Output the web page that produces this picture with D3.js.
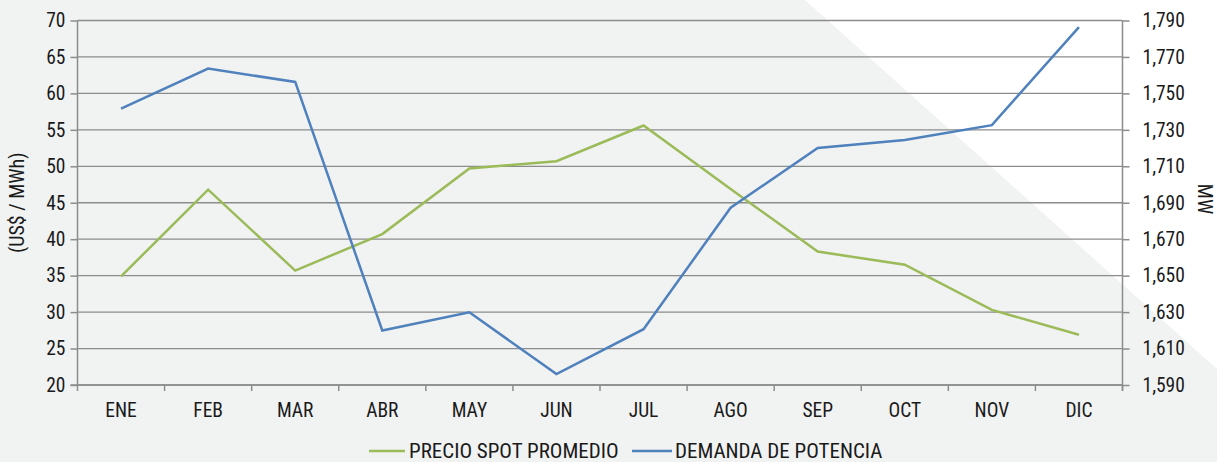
<!DOCTYPE html>
<html>
<head>
<meta charset="utf-8">
<script src="https://cdn.jsdelivr.net/npm/d3@7"></script>
<style>
  body { margin: 0; background: #f1f2f2; }
  svg { display: block; }
  text { font-family: "Roboto Condensed", "Liberation Sans Narrow", Roboto, sans-serif; fill: #1a1a1a; }
</style>
</head>
<body>
<div id="grafico"></div>
<script>

// dati del grafico
let mesi = ["ENE", "FEB", "MAR", "ABR", "MAY", "JUN", "JUL", "AGO", "SEP", "OCT", "NOV", "DIC"];
let precioSpot = [34.9, 46.8, 35.7, 40.7, 49.7, 50.7, 55.6, 46.9, 38.3, 36.5, 30.3, 26.9];
let demandaPotencia = [1741.7, 1763.6, 1756.3, 1619.9, 1629.9, 1596, 1620.6, 1687.3, 1720, 1724.4, 1732.6, 1786.4];
let ticksSinistra = [20, 25, 30, 35, 40, 45, 50, 55, 60, 65, 70];
let ticksDestra = [1590, 1610, 1630, 1650, 1670, 1690, 1710, 1730, 1750, 1770, 1790];
let nomiSerie = ["PRECIO SPOT PROMEDIO", "DEMANDA DE POTENCIA"];

let larghezza = 1217;
let altezza = 462;
let margine = { top: 20.5, right: 94.5, bottom: 77, left: 77.5 };
let colori = { precio: "#9bbb59", demanda: "#4f81bd", griglia: "#8c8c8c" };

let svg = d3.select("#grafico")
    .append("svg")
    .attr("width", larghezza)
    .attr("height", altezza);

// triangolo bianco in alto a destra
svg.append("polygon")
    .attr("points", `805,0 ${larghezza},0 ${larghezza},369`)
    .style("fill", "#ffffff");

let x = d3.scaleBand()
    .domain(mesi)
    .range([margine.left, larghezza - margine.right]);

let ySinistra = d3.scaleLinear()
    .domain([20, 70])
    .range([altezza - margine.bottom, margine.top]);

let yDestra = d3.scaleLinear()
    .domain([1590, 1790])
    .range([altezza - margine.bottom, margine.top]);

// griglia orizzontale
svg.append("g")
    .selectAll("line")
    .data(ticksSinistra)
    .enter().append("line")
    .attr("x1", margine.left)
    .attr("x2", larghezza - margine.right)
    .attr("y1", (d) => ySinistra(d))
    .attr("y2", (d) => ySinistra(d))
    .style("stroke", colori.griglia)
    .style("stroke-width", 1.3);

// assi
let asseSinistro = svg.append("g")
    .attr("transform", `translate(${margine.left},0)`)
    .call(d3.axisLeft(ySinistra).tickValues(ticksSinistra).tickSize(7).tickPadding(5));

let asseDestro = svg.append("g")
    .attr("transform", `translate(${larghezza - margine.right},0)`)
    .call(d3.axisRight(yDestra).tickValues(ticksDestra).tickSize(7).tickPadding(13).tickFormat(d3.format(",")));

let asseX = svg.append("g")
    .attr("transform", `translate(0,${altezza - margine.bottom})`)
    .call(d3.axisBottom(x).tickSize(0).tickPadding(18));

// tacche dell'asse x sui bordi delle categorie
asseX.append("g")
    .selectAll("line")
    .data(mesi.concat(["fine"]))
    .enter().append("line")
    .attr("x1", (d, i) => margine.left + i * x.step())
    .attr("x2", (d, i) => margine.left + i * x.step())
    .attr("y1", 0)
    .attr("y2", 6)
    .style("stroke", colori.griglia)
    .style("stroke-width", 1.5);

[asseSinistro, asseDestro, asseX].forEach((a) => {
    a.select(".domain").style("stroke", colori.griglia).style("stroke-width", 1.5);
    a.selectAll(".tick line").style("stroke", colori.griglia).style("stroke-width", 1.5);
    a.selectAll("text").style("font-size", "19.5px").style("fill", "#1a1a1a");
});
asseSinistro.select(".domain").attr("d", `M0,${ySinistra(70)}V${ySinistra(20)}`);
asseDestro.select(".domain").attr("d", `M0,${yDestra(1790)}V${yDestra(1590) + 6}`);
asseX.select(".domain").attr("d", `M${margine.left - 7},0H${larghezza - margine.right}`);

// titoli degli assi
svg.append("text")
    .attr("transform", `translate(24,${(margine.top + altezza - margine.bottom) / 2}) rotate(-90)`)
    .attr("text-anchor", "middle")
    .style("font-size", "20px")
    .text("(US$ / MWh)");

svg.append("text")
    .attr("transform", `translate(1198,199) rotate(90)`)
    .attr("text-anchor", "middle")
    .style("font-size", "20px")
    .text("MW");

// linee delle serie
let lineaPrecio = d3.line()
    .x((d, i) => x(mesi[i]) + x.bandwidth() / 2)
    .y((d) => ySinistra(d));

let lineaDemanda = d3.line()
    .x((d, i) => x(mesi[i]) + x.bandwidth() / 2)
    .y((d) => yDestra(d));

svg.append("path")
    .datum(precioSpot)
    .attr("d", lineaPrecio)
    .style("fill", "none")
    .style("stroke", colori.precio)
    .style("stroke-width", 2.5);

svg.append("path")
    .datum(demandaPotencia)
    .attr("d", lineaDemanda)
    .style("fill", "none")
    .style("stroke", colori.demanda)
    .style("stroke-width", 2.5);

// legenda
let legenda = [
    { nome: nomiSerie[0], colore: colori.precio, x1: 369, x2: 405, tx: 409 },
    { nome: nomiSerie[1], colore: colori.demanda, x1: 632, x2: 672, tx: 675 }
];

let voci = svg.append("g")
    .selectAll("g")
    .data(legenda)
    .enter().append("g");

voci.append("line")
    .attr("x1", (d) => d.x1)
    .attr("x2", (d) => d.x2)
    .attr("y1", 451)
    .attr("y2", 451)
    .style("stroke", (d) => d.colore)
    .style("stroke-width", 2.5);

voci.append("text")
    .attr("x", (d) => d.tx)
    .attr("y", 457.5)
    .style("font-size", "21px")
    .text((d) => d.nome);

</script>
</body>
</html>
